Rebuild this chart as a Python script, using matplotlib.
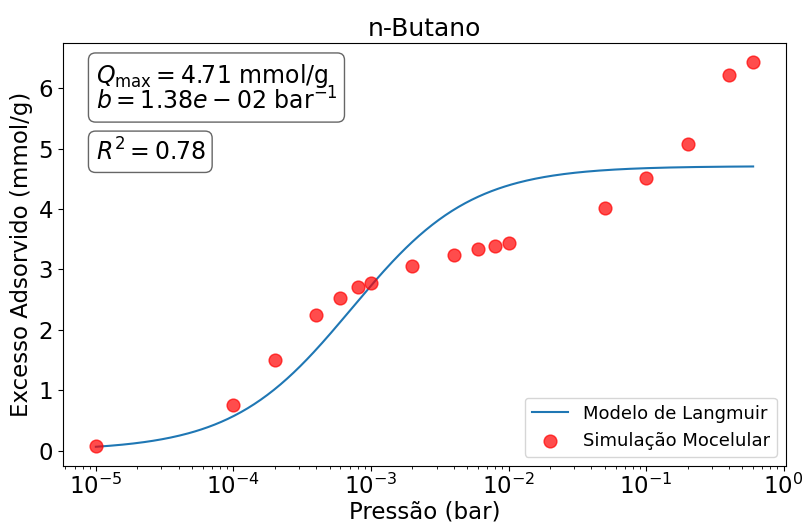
import matplotlib
matplotlib.use("Agg")
import matplotlib.pyplot as plt
import numpy as np

# Simulated adsorption points (bar, mmol/g)
pressure_bar = [1e-5, 1e-4, 2e-4, 4e-4, 6e-4, 8e-4, 1e-3, 2e-3, 4e-3, 6e-3,
                8e-3, 1e-2, 5e-2, 1e-1, 2e-1, 4e-1, 6e-1]
excess_ads = [0.07, 0.76, 1.50, 2.25, 2.53, 2.71, 2.78, 3.06, 3.24, 3.34,
              3.39, 3.43, 4.01, 4.52, 5.07, 6.22, 6.43]

# Langmuir fit (b given per Pa in the fit, shown as bar^-1 in the label)
q_max = 4.71
b_fit = 1.38e-2
r2 = 0.78

p_fit = np.logspace(np.log10(min(pressure_bar)), np.log10(max(pressure_bar)), 300)
q_fit = q_max * b_fit * p_fit * 1e5 / (1 + b_fit * p_fit * 1e5)

fig = plt.figure(figsize=(8.05, 5.24), dpi=100)
ax = fig.add_axes([63 / 805, 1 - 466 / 524, (786 - 63) / 805, (466 - 43) / 524])

ax.plot(p_fit, q_fit, color="tab:blue", lw=1.5, label="Modelo de Langmuir")
ax.scatter(pressure_bar, excess_ads, color="red", alpha=0.7, s=85,
           label="Simulação Mocelular", zorder=3)
ax.set_xscale("log")

ax.set_title("n-Butano", fontsize=18, pad=5)
ax.set_xlabel("Pressão (bar)", fontsize=16.5, labelpad=1)
ax.set_ylabel("Excesso Adsorvido (mmol/g)", fontsize=16.5, labelpad=4)
ax.tick_params(labelsize=16.5)
ax.tick_params(axis="x", pad=2)

box = dict(boxstyle="round", facecolor="white", edgecolor="#555555", alpha=0.9)
ax.text(0.045, 0.955,
        r"$Q_{\mathrm{max}} = %.2f$ mmol/g" "\n" r"$b = %.2e$ bar$^{-1}$" % (q_max, b_fit),
        transform=ax.transAxes, fontsize=17, va="top", ha="left",
        bbox=box, linespacing=0.9)
ax.text(0.045, 0.775, r"$R^2 = %.2f$" % r2, transform=ax.transAxes,
        fontsize=17, va="top", ha="left", bbox=box)

ax.legend(loc="lower right", fontsize=13, handletextpad=0.8)

fig.savefig("out.png", dpi=100)
